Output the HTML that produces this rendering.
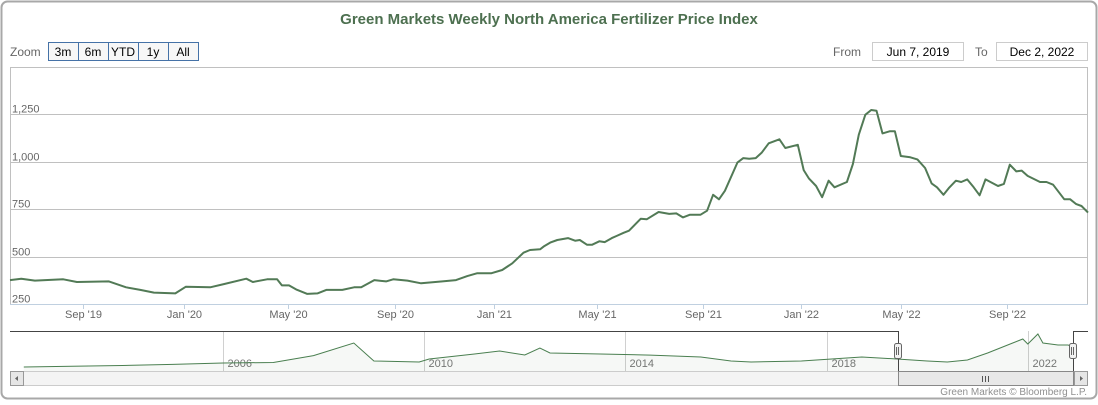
<!DOCTYPE html>
<html><head><meta charset="utf-8">
<style>
html,body{margin:0;padding:0;background:#fff;}
body{width:1098px;height:400px;overflow:hidden;font-family:"Liberation Sans",sans-serif;}
svg text{font-family:"Liberation Sans",sans-serif;}
</style></head>
<body>
<svg id="chart" width="1098" height="400" viewBox="0 0 1098 400" xmlns="http://www.w3.org/2000/svg">
<rect x="1.5" y="1.5" width="1095" height="397" rx="6" fill="#fff" stroke="#a8a8a8" stroke-width="2"/>
<text x="549" y="24" text-anchor="middle" font-size="15" font-weight="bold" fill="#4d7050">Green Markets Weekly North America Fertilizer Price Index</text>
<g>
<text x="10" y="56" font-size="12" fill="#666">Zoom</text>
<rect x="48.5" y="42.5" width="150" height="18" fill="#f7f7f7" stroke="#4572a7"/>
<line x1="78.5" y1="42" x2="78.5" y2="61" stroke="#4572a7"/><line x1="108.5" y1="42" x2="108.5" y2="61" stroke="#4572a7"/>
<line x1="138.5" y1="42" x2="138.5" y2="61" stroke="#4572a7"/><line x1="168.5" y1="42" x2="168.5" y2="61" stroke="#4572a7"/>
<text x="63" y="56" text-anchor="middle" font-size="12" fill="#000">3m</text>
<text x="93" y="56" text-anchor="middle" font-size="12" fill="#000">6m</text>
<text x="123" y="56" text-anchor="middle" font-size="12" fill="#000">YTD</text>
<text x="153" y="56" text-anchor="middle" font-size="12" fill="#000">1y</text>
<text x="183" y="56" text-anchor="middle" font-size="12" fill="#000">All</text>
</g>
<g>
<text x="833" y="56" font-size="12" fill="#666">From</text>
<rect x="872.5" y="42.5" width="91" height="18" fill="#fff" stroke="#ccc"/>
<text x="918" y="56" text-anchor="middle" font-size="12" fill="#000">Jun 7, 2019</text>
<text x="975" y="56" font-size="12" fill="#666">To</text>
<rect x="996.5" y="42.5" width="91" height="18" fill="#fff" stroke="#ccc"/>
<text x="1042" y="56" text-anchor="middle" font-size="12" fill="#000">Dec 2, 2022</text>
</g>
<rect x="10.5" y="67.5" width="1077" height="237" fill="none" stroke="#c0c0c0"/>
<g id="grid"></g><g id="xaxis"></g><g id="series"></g><g id="nav"></g>
<text x="1087" y="395" text-anchor="end" font-size="10" fill="#909090">Green Markets © Bloomberg L.P.</text>
</svg>
<script>
// Main series: ordinal point position (weeks from Jun 7, 2019) and index value
const weekIdx = [0,1.9,4.2,9,11.3,16.7,19.6,22,24.3,27.9,29.7,33.8,36.1,39.9,41,43.4,45.1,45.9,47.1,48.3,50.2,51.9,53.4,56.1,58.1,59.3,61.5,63.5,64.7,67.1,69.4,73,75.3,77.2,78.9,81.3,83.1,84.8,86.7,87.8,89.5,90.2,91.2,92.4,94.2,95.4,96.2,97.4,98.3,99.5,100.4,101.6,102.4,103.6,104.5,106.5,107.5,109.5,111.3,112.5,113.6,114.8,116.6,117.7,118.7,119.7,120.7,122.8,123.8,124.8,125.9,126.9,128.1,129.9,130.9,133,134,134.9,136.1,137.1,138.2,139.2,141.3,142.3,143.3,144.4,145.4,146.3,147.3,148.5,149.4,150.4,152,153.2,154.5,155.6,156.5,157.6,158.5,159.7,160.6,161.6,162.7,163.7,164.7,166.8,167.8,168.8,169.9,170.8,171.8,173.9,175,176.1,178,179,180,180.9,182];
const values = [377,384,374,381,367,370,339,325,311,307,342,339,356,384,367,381,381,349,349,328,304,307,325,325,339,339,377,370,381,374,360,370,377,398,413,413,430,465,521,535,539,556,574,588,598,584,588,563,563,581,577,598,609,626,637,700,697,735,725,728,707,721,721,742,826,802,847,995,1019,1016,1019,1047,1097,1118,1072,1089,956,911,872,813,900,865,893,988,1142,1247,1272,1268,1149,1160,1160,1030,1023,1012,967,886,865,826,861,900,893,907,865,823,907,872,883,984,949,953,925,893,893,879,802,802,777,767,732];
const yTicks = [250,500,750,1000,1250];
const yTickLabels = ["250","500","750","1,000","1,250"];
// ordinal positions of month ticks (in point index units)
const xTickIdx = [12.38,29.43,46.9,64.95,81.77,99.16,117.05,133.6,150.5,168.4];
const xTickLabels = ["Sep '19","Jan '20","May '20","Sep '20","Jan '21","May '21","Sep '21","Jan '22","May '22","Sep '22"];
// Navigator: long history (fractional year, value)
const navYears = [2002.04,2003,2004,2005,2006,2007,2007.8,2008.6,2009,2009.9,2010.1,2011,2011.5,2012,2012.3,2012.5,2013.5,2014.5,2015.5,2016.1,2016.5,2017.5,2018.7,2019.4,2020,2020.4,2020.8,2021.2,2021.7,2021.9,2022,2022.2,2022.3,2022.6,2022.8,2022.92];
const navValues = [85,110,140,180,231,250,500,961,304,268,377,560,669,523,779,596,560,520,450,304,268,304,450,377,304,268,341,596,961,1107,925,1290,961,888,888,815];
const navYearTicks = [2006,2010,2014,2018,2022];

const NS="http://www.w3.org/2000/svg";
const X0=10, X1=1088, totalWeeks=182;
const xw = w => X0 + w*(X1-X0)/totalWeeks;
const yv = v => 304.2 - (v-250)*0.19;
const nx = yr => 223 + (yr-2006)*50.3;
const ny = v => 359 - (v-377)*0.0274;
function mk(tag, attrs, parent, txt){const e=document.createElementNS(NS,tag);for(const k in attrs)e.setAttribute(k,attrs[k]);if(txt!==undefined)e.textContent=txt;parent.appendChild(e);return e;}

const grid=document.getElementById('grid');
yTicks.forEach((t,i)=>{
  const y=Math.round(yv(t))+0.5;
  if(t>250){const l=mk('line',{x1:10,x2:1088,y1:y,y2:y,stroke:'#c0c0c0','stroke-width':1},grid);
  
  }
  const tx=mk('text',{x:12,y:y-2,'font-size':11,fill:'#666'},grid,yTickLabels[i]);
  
  
});
const xa=document.getElementById('xaxis');
mk('line',{x1:10,x2:1088,y1:304.5,y2:304.5,stroke:'#c0d0e0'},xa);
xTickIdx.forEach((w,i)=>{
  const x=Math.round(xw(w))+0.5;
  mk('line',{x1:x,x2:x,y1:304,y2:309,stroke:'#c0d0e0'},xa);
  const tx=mk('text',{x:x,y:318,'text-anchor':'middle','font-size':11,fill:'#666'},xa,xTickLabels[i]);
  
  
});
const s=document.getElementById('series');
const pts=weekIdx.map((w,i)=>xw(w).toFixed(1)+','+yv(values[i]).toFixed(1)).join(' ');
const pl=mk('polyline',{points:pts,fill:'none',stroke:'#527a56','stroke-width':2,'stroke-linejoin':'round'},s);



// Navigator
const nav=document.getElementById('nav');
navYearTicks.forEach(yr=>{
  const x=Math.round(nx(yr))+0.5;
  mk('line',{x1:x,x2:x,y1:331,y2:371,stroke:'#d0d0d0'},nav);
  const tx=mk('text',{x:x+4,y:367,'font-size':11,fill:'#777'},nav,String(yr));
  
  
});
const npts=navYears.map((y,i)=>nx(y).toFixed(1)+','+ny(navValues[i]).toFixed(1));
mk('polygon',{points:npts.join(' ')+' '+nx(navYears[navYears.length-1]).toFixed(1)+',371 '+nx(navYears[0]).toFixed(1)+',371',fill:'rgba(82,122,86,0.05)',stroke:'none'},nav);
const nl=mk('polyline',{points:npts.join(' '),fill:'none',stroke:'#4a7f50','stroke-width':1},nav);


const selL=898, selR=1073;
mk('path',{d:`M10,331.5 H${selL+0.5} V371.5 H${selR+0.5} V331.5 H1088`,fill:'none',stroke:'#444','stroke-width':1},nav);
[selL,selR].forEach(x=>{
  const h=mk('rect',{x:x-3.5,y:343.5,width:7,height:15,rx:2,fill:'#f2f2f2',stroke:'#666'},nav);
  
  
  mk('path',{d:`M${x-1.5},347 v8 M${x+0.5},347 v8`,stroke:'#666'},nav);
});
const track=mk('rect',{x:10.5,y:371.5,width:1077,height:14,fill:'#f4f4f4',stroke:'#ccc'},nav);


const lb=mk('rect',{x:10.5,y:371.5,width:13,height:14,fill:'#e6e6e6',stroke:'#999'},nav);


mk('path',{d:'M18,376 L15,378.5 L18,381 Z',fill:'#666'},nav);
const thumb=mk('rect',{x:selL+0.5,y:371.5,width:selR-selL,height:14,fill:'#e8e8e8',stroke:'#888'},nav);


const mid=(selL+selR)/2;
mk('path',{d:`M${mid-3},376 v6 M${mid},376 v6 M${mid+3},376 v6`,stroke:'#555'},nav);
const rb=mk('rect',{x:1074.5,y:371.5,width:13,height:14,fill:'#e6e6e6',stroke:'#999'},nav);


mk('path',{d:'M1080,376 L1083,378.5 L1080,381 Z',fill:'#666'},nav);
</script>
</body></html>
